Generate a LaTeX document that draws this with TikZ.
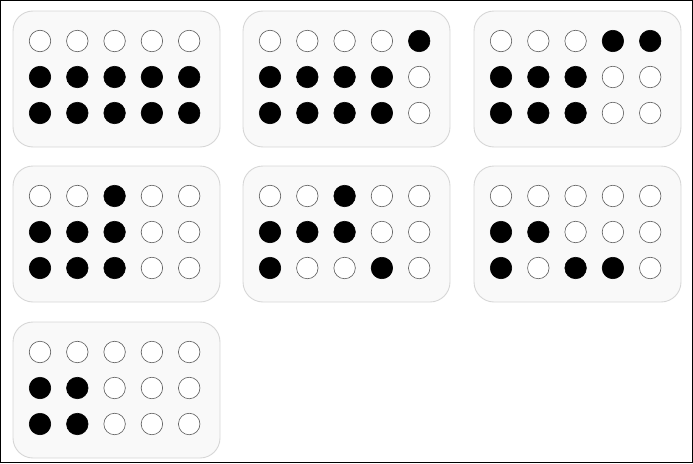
\documentclass[tikz,border=0pt]{standalone}
\definecolor{boxfill}{HTML}{F9F9F9}
\definecolor{boxline}{HTML}{D6D6D6}
\definecolor{ringline}{HTML}{5A5A5A}
\tikzset{
  panel/.style={draw=boxline, fill=boxfill, line width=0.9pt, rounded corners=20pt},
  emptydot/.style={circle, draw=ringline, fill=white, line width=0.6pt, minimum size=21.5pt, inner sep=0pt},
  fulldot/.style={circle, draw=black, fill=black, line width=0.6pt, minimum size=21.5pt, inner sep=0pt}
}
\begin{document}
\begin{tikzpicture}[x=1pt,y=-1pt]
\useasboundingbox (0,0) rectangle (693,463);
\draw[black, line width=1.2pt] (0.6,0.6) rectangle (692.4,462.4);
% panels: name/left/top/pattern (row1,row2,row3 ; 1=filled)
\foreach \n/\bx/\by/\pat in {
  a/13/11/{0,0,0,0,0,1,1,1,1,1,1,1,1,1,1},
  b/243/11/{0,0,0,0,1,1,1,1,1,0,1,1,1,1,0},
  c/474/11/{0,0,0,1,1,1,1,1,0,0,1,1,1,0,0},
  d/13/166/{0,0,1,0,0,1,1,1,0,0,1,1,1,0,0},
  e/243/166/{0,0,1,0,0,1,1,1,0,0,1,0,0,1,0},
  f/474/166/{0,0,0,0,0,1,1,0,0,0,1,0,1,1,0},
  g/13/322/{0,0,0,0,0,1,1,0,0,0,1,1,0,0,0}}{
  \draw[panel] (\bx,\by) rectangle ++(207,136);
  \foreach \v [count=\k from 0] in \pat {
    \pgfmathtruncatemacro{\r}{div(\k,5)}
    \pgfmathtruncatemacro{\c}{mod(\k,5)}
    \ifnum\v=1
      \node[fulldot] (\n-\r-\c) at (\bx+27+37.3*\c, \by+30+36*\r) {};
    \else
      \node[emptydot] (\n-\r-\c) at (\bx+27+37.3*\c, \by+30+36*\r) {};
    \fi
  }
}
\end{tikzpicture}
\end{document}
